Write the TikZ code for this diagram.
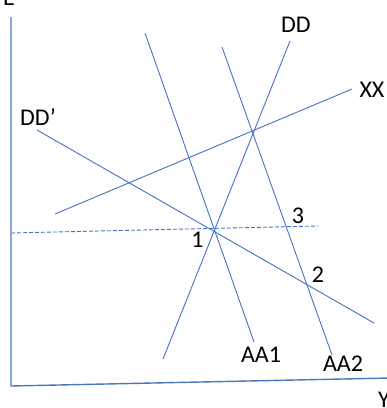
\documentclass[tikz,border=0pt]{standalone}
\usepackage{fontspec}
\setmainfont{Carlito}
\definecolor{lineblue}{HTML}{4472C4}
\definecolor{axisblue}{HTML}{4A78C0}
\begin{document}
\begin{tikzpicture}[x=1pt,y=-1pt,
  curve/.style={draw=lineblue, line width=0.9pt},
  axis/.style={draw=axisblue, line width=1.4pt},
  lbl/.style={font=\fontsize{24}{28}\selectfont, inner sep=0pt, text=black}]
\useasboundingbox (0,0) rectangle (387,408);

% axes
\coordinate (top) at (11,17);
\coordinate (origin) at (11,386);
\coordinate (right) at (390,378);
\draw[axis] (top) -- (origin) -- (right);
\node[lbl] (E) at (9,-2) {E};
\node[lbl] (Y) at (384,400) {Y};

% curve end points
\coordinate (dd0) at (163,359);   \coordinate (dd1) at (290,41);
\coordinate (xx0) at (55,214);    \coordinate (xx1) at (352,89);
\coordinate (ddp0) at (37,130);   \coordinate (ddp1) at (374,323);
\coordinate (aa10) at (145,33);   \coordinate (aa11) at (254,342);
\coordinate (aa20) at (222,47);   \coordinate (aa21) at (332,355);
\coordinate (dl0) at (11,233);    \coordinate (dl1) at (318,226);

\draw[curve] (dd0) -- (dd1);
\draw[curve] (xx0) -- (xx1);
\draw[curve] (ddp0) -- (ddp1);
\draw[curve] (aa10) -- (aa11);
\draw[curve] (aa20) -- (aa21);
\draw[curve, dash pattern=on 4pt off 2pt] (dl0) -- (dl1);

% curve labels
\node[lbl] (DD) at (296,24.5) {DD};
\node[lbl] (XX) at (372,90) {XX};
\node[lbl] (DDp) at (38,117) {DD’};
\node[lbl] (AA1) at (261,355) {AA1};
\node[lbl] (AA2) at (343,364) {AA2};

% equilibrium labels
\node[lbl] (p1) at (197.5,240) {1};
\node[lbl] (p3) at (298,216) {3};
\node[lbl] (p2) at (318,275) {2};
\end{tikzpicture}
\end{document}
